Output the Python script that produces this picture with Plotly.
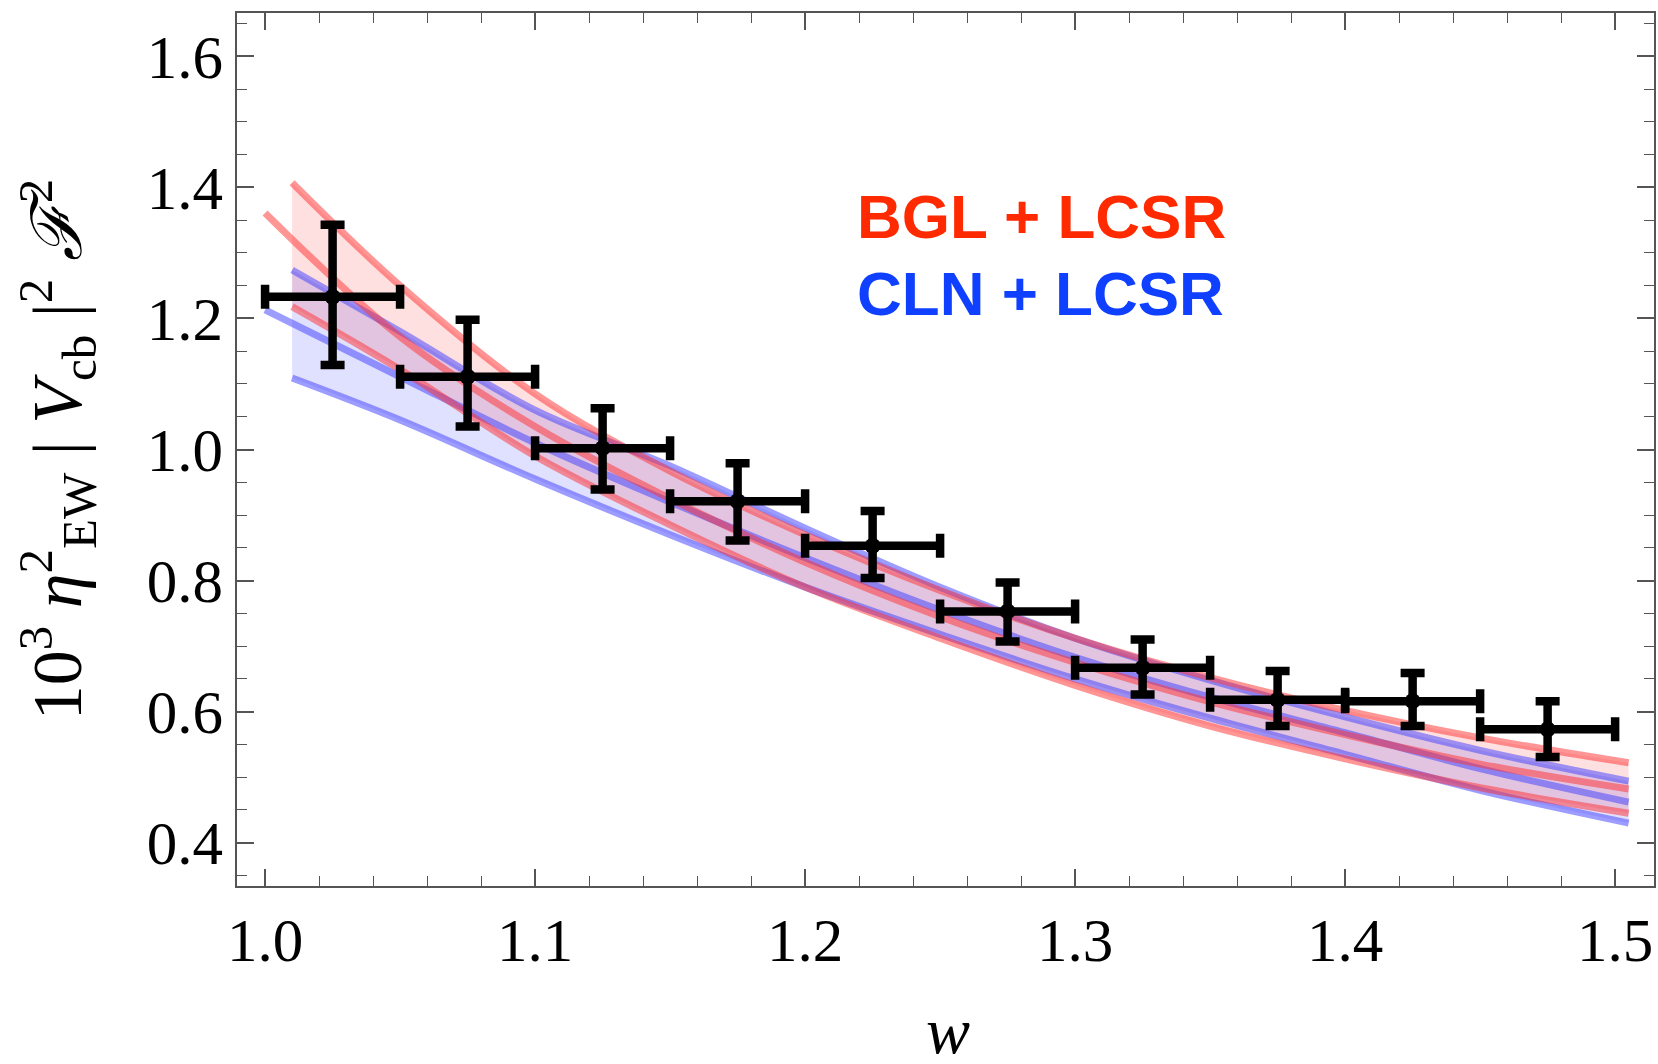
import plotly.graph_objects as go

# ---- data points (binned measurement) ----
w_pts = [1.025, 1.075, 1.125, 1.175, 1.225, 1.275, 1.325, 1.375, 1.425, 1.475]
y_pts = [1.233, 1.111, 1.002, 0.921, 0.853, 0.753, 0.667, 0.618, 0.616, 0.573]
y_err_plus = [0.110, 0.087, 0.061, 0.058, 0.053, 0.044, 0.043, 0.044, 0.043, 0.043]
y_err_minus = [0.104, 0.076, 0.063, 0.060, 0.049, 0.046, 0.041, 0.040, 0.038, 0.042]
w_halfwidth = [0.025] * 10

# ---- theory bands ----
w_band = [1.01, 1.05, 1.10, 1.15, 1.20, 1.25, 1.30, 1.35, 1.40, 1.45, 1.505]
w_cent = [1.00, 1.05, 1.10, 1.15, 1.20, 1.25, 1.30, 1.35, 1.40, 1.45, 1.505]

bgl_upper = [1.407, 1.250, 1.085, 0.967, 0.870, 0.785, 0.712, 0.652, 0.602, 0.560, 0.522]
bgl_central = [1.361, 1.172, 1.035, 0.925, 0.828, 0.745, 0.675, 0.615, 0.565, 0.520, 0.482]
bgl_lower = [1.218, 1.122, 0.990, 0.885, 0.790, 0.712, 0.640, 0.578, 0.528, 0.484, 0.445]

cln_upper = [1.274, 1.180, 1.060, 0.975, 0.880, 0.790, 0.712, 0.648, 0.592, 0.541, 0.494]
cln_central = [1.213, 1.111, 1.010, 0.920, 0.835, 0.755, 0.683, 0.622, 0.568, 0.513, 0.462]
cln_lower = [1.109, 1.045, 0.955, 0.870, 0.790, 0.718, 0.650, 0.590, 0.535, 0.480, 0.430]

x_ticks = [1.0, 1.1, 1.2, 1.3, 1.4, 1.5]
x_ticklabels = ["1.0", "1.1", "1.2", "1.3", "1.4", "1.5"]
y_ticks = [0.4, 0.6, 0.8, 1.0, 1.2, 1.4, 1.6]
y_ticklabels = ["0.4", "0.6", "0.8", "1.0", "1.2", "1.4", "1.6"]

RED_LINE = "rgba(255,45,45,0.50)"
BLUE_LINE = "rgba(60,60,255,0.50)"
RED_FILL = "rgba(255,0,0,0.12)"
BLUE_FILL = "rgba(0,0,255,0.12)"
LW = 7

fig = go.Figure()

# fills
fig.add_trace(go.Scatter(x=w_band, y=cln_upper, mode="lines", line=dict(width=0, shape="spline"),
                         showlegend=False, hoverinfo="skip"))
fig.add_trace(go.Scatter(x=w_band, y=cln_lower, mode="lines", line=dict(width=0, shape="spline"),
                         fill="tonexty", fillcolor=BLUE_FILL, showlegend=False, hoverinfo="skip"))
fig.add_trace(go.Scatter(x=w_band, y=bgl_upper, mode="lines", line=dict(width=0, shape="spline"),
                         showlegend=False, hoverinfo="skip"))
fig.add_trace(go.Scatter(x=w_band, y=bgl_lower, mode="lines", line=dict(width=0, shape="spline"),
                         fill="tonexty", fillcolor=RED_FILL, showlegend=False, hoverinfo="skip"))

# lines
for yy, xx, c, nm in [
    (cln_upper, w_band, BLUE_LINE, "CLN upper"),
    (cln_central, w_cent, BLUE_LINE, "CLN central"),
    (cln_lower, w_band, BLUE_LINE, "CLN lower"),
    (bgl_upper, w_band, RED_LINE, "BGL upper"),
    (bgl_central, w_cent, RED_LINE, "BGL central"),
    (bgl_lower, w_band, RED_LINE, "BGL lower"),
]:
    fig.add_trace(go.Scatter(x=xx, y=yy, mode="lines", name=nm,
                             line=dict(color=c, width=LW, shape="spline", smoothing=1.0),
                             showlegend=False))

# data
fig.add_trace(go.Scatter(
    x=w_pts, y=y_pts, mode="markers", name="data",
    marker=dict(color="black", size=16),
    error_x=dict(type="data", array=w_halfwidth, color="black", thickness=8.5, width=12),
    error_y=dict(type="data", array=y_err_plus, arrayminus=y_err_minus, symmetric=False,
                 color="black", thickness=8.5, width=12),
    showlegend=False))

tickfont = dict(family="Liberation Serif, DejaVu Serif, serif", size=61, color="black")
AXCOL = "#555555"

fig.update_layout(
    width=1658, height=1064,
    margin=dict(l=237, r=4, t=13, b=178),
    paper_bgcolor="white", plot_bgcolor="white",
    showlegend=False,
    xaxis=dict(range=[0.9896, 1.5144], tickvals=x_ticks, ticktext=x_ticklabels,
               automargin=False,
               ticks="inside", ticklen=17, tickwidth=1.5, tickcolor=AXCOL,
               showline=True, linecolor=AXCOL, linewidth=1.5, mirror="allticks",
               showgrid=False, zeroline=False, tickfont=tickfont,
               minor=dict(dtick=0.02, tick0=1.0, ticks="inside", ticklen=10, tickwidth=1.2,
                          tickcolor=AXCOL, showgrid=False)),
    yaxis=dict(range=[0.334, 1.666], tickvals=y_ticks, ticktext=y_ticklabels,
               automargin=False,
               ticks="inside", ticklen=17, tickwidth=1.5, tickcolor=AXCOL,
               showline=True, linecolor=AXCOL, linewidth=1.5, mirror="allticks",
               showgrid=False, zeroline=False, tickfont=tickfont,
               minor=dict(dtick=0.05, tick0=0.4, ticks="inside", ticklen=10, tickwidth=1.2,
                          tickcolor=AXCOL, showgrid=False),
               title=dict(text="10<sup>3</sup> <i>η</i><sup>2</sup><sub>EW</sub> | <i>V</i><sub>cb</sub> |<sup>2</sup> <i>ℱ</i><sup>2</sup>",
                          standoff=42,
                          font=dict(family="Liberation Serif, DejaVu Serif, serif", size=70, color="black"))),
)

# x-axis title
fig.add_annotation(x=0.5018, y=-0.165, xref="paper", yref="paper", xanchor="center", yanchor="middle",
                   text="<i>w</i>", showarrow=False,
                   font=dict(family="Liberation Serif, DejaVu Serif, serif", size=66, color="black"))

fig.add_annotation(x=1.2185, y=1.356, xref="x", yref="y", xanchor="left", yanchor="middle",
                   text="<b>BGL + LCSR</b>", showarrow=False,
                   font=dict(family="Liberation Sans, Arial, sans-serif", size=62, color="#FF2A00"))
fig.add_annotation(x=1.2185, y=1.238, xref="x", yref="y", xanchor="left", yanchor="middle",
                   text="<b>CLN + LCSR</b>", showarrow=False,
                   font=dict(family="Liberation Sans, Arial, sans-serif", size=62, color="#1040FF"))

fig.write_html("out.html")
